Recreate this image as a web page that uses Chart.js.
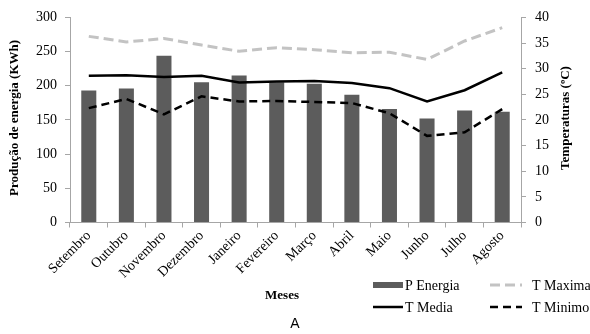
<!DOCTYPE html>
<html>
<head>
<meta charset="utf-8">
<script src="https://cdn.jsdelivr.net/npm/chart.js@4/dist/chart.umd.min.js"></script>
<style>
  html, body { margin: 0; padding: 0; background: #fff; }
  #wrap { width: 590px; height: 334px; position: relative; }
</style>
</head>
<body>
<div id="wrap"><canvas id="c" width="590" height="334"></canvas></div>
<script>
// Months of the year (September to August)
const meses = ['Setembro', 'Outubro', 'Novembro', 'Dezembro', 'Janeiro', 'Fevereiro',
               'Março', 'Abril', 'Maio', 'Junho', 'Julho', 'Agosto'];
// Energy production (kWh)
const pEnergia = [193, 196, 244, 205, 215, 205, 203, 187, 166, 152, 164, 162];
// Temperatures (ºC)
const tMaxima = [36.3, 35.2, 35.9, 34.6, 33.4, 34.1, 33.7, 33.1, 33.2, 31.8, 35.4, 38.0];
const tMedia  = [28.6, 28.7, 28.4, 28.6, 27.3, 27.5, 27.6, 27.2, 26.2, 23.6, 25.8, 29.3];
const tMinimo = [22.3, 24.1, 21.1, 24.6, 23.6, 23.7, 23.5, 23.3, 21.3, 16.9, 17.6, 22.1];
// Axis ticks
const energiaTicks = [0, 50, 100, 150, 200, 250, 300];
const tempTicks = [0, 5, 10, 15, 20, 25, 30, 35, 40];

const SERIF = '"Liberation Serif", "Times New Roman", serif';
const AXIS = '#a6a6a6';

// Free text and a two-column legend built from the datasets
const extras = {
  id: 'extras',
  afterDraw(chart) {
    const ctx = chart.ctx;
    ctx.save();
    ctx.fillStyle = '#000';
    ctx.textBaseline = 'middle';
    ctx.textAlign = 'center';

    ctx.font = 'bold 13px ' + SERIF;
    ctx.save();
    ctx.translate(15, 118);
    ctx.rotate(-Math.PI / 2);
    ctx.fillText('Produção de energia (KWh)', 0, 0);
    ctx.restore();

    ctx.save();
    ctx.translate(566, 118);
    ctx.rotate(-Math.PI / 2);
    ctx.fillText('Temperaturas (ºC)', 0, 0);
    ctx.restore();

    ctx.font = 'bold 13px ' + SERIF;
    ctx.fillText('Meses', 282, 296);

    ctx.font = '14px "Liberation Sans", Arial, sans-serif';
    ctx.fillText('A', 295, 324);

    // legend
    const cols = [373, 490];
    const rows = [285, 307];
    const ds = chart.data.datasets;
    ctx.font = '14px ' + SERIF;
    ctx.textAlign = 'left';
    ds.forEach((d, i) => {
      const x = cols[i % 2];
      const y = rows[Math.floor(i / 2)];
      const w = i % 2 === 0 ? 30 : 32;
      if (d.type === 'bar') {
        ctx.fillStyle = d.backgroundColor;
        ctx.fillRect(x, y - 3, w, 6);
      } else {
        ctx.strokeStyle = d.borderColor;
        ctx.lineWidth = d.borderWidth;
        ctx.setLineDash(d.borderDash || []);
        ctx.beginPath();
        ctx.moveTo(x, y);
        ctx.lineTo(x + w, y);
        ctx.stroke();
        ctx.setLineDash([]);
      }
      ctx.fillStyle = '#000';
      ctx.fillText(d.label, x + w + (i % 2 === 0 ? 2 : 10), y + 1);
    });
    ctx.restore();
  }
};

new Chart(document.getElementById('c'), {
  data: {
    labels: meses,
    datasets: [
      { type: 'bar', label: 'P Energia', data: pEnergia, yAxisID: 'y',
        backgroundColor: '#5c5c5c', barPercentage: 0.8, categoryPercentage: 0.5, order: 2 },
      { type: 'line', label: 'T Maxima', data: tMaxima, yAxisID: 'y1',
        borderColor: '#c3c3c3', borderWidth: 3, borderDash: [10, 5], pointRadius: 0, tension: 0, order: 1 },
      { type: 'line', label: 'T Media', data: tMedia, yAxisID: 'y1',
        borderColor: '#000', borderWidth: 2.5, pointRadius: 0, tension: 0, order: 1 },
      { type: 'line', label: 'T Minimo', data: tMinimo, yAxisID: 'y1',
        borderColor: '#000', borderWidth: 2.5, borderDash: [8, 5], pointRadius: 0, tension: 0, order: 1 }
    ]
  },
  options: {
    responsive: false,
    animation: false,
    layout: { padding: { top: 17, left: 0, right: 0, bottom: 0 } },
    plugins: { legend: { display: false }, tooltip: { enabled: false } },
    scales: {
      x: {
        offset: true,
        grid: { display: true, drawOnChartArea: false, offset: true, tickLength: 5, color: AXIS },
        border: { color: AXIS },
        ticks: { color: '#000', font: { family: SERIF, size: 14 }, maxRotation: 45, minRotation: 45, padding: 0 },
        afterFit(s) { s.height = 111.5; }
      },
      y: {
        position: 'left', min: 0, max: 300,
        afterBuildTicks(s) { s.ticks = energiaTicks.map(v => ({ value: v })); },
        grid: { drawOnChartArea: false, tickLength: 5, color: AXIS },
        border: { color: AXIS },
        ticks: { color: '#000', font: { family: SERIF, size: 14 }, padding: 8 },
        afterFit(s) { s.width = 70; }
      },
      y1: {
        position: 'right', min: 0, max: 40,
        afterBuildTicks(s) { s.ticks = tempTicks.map(v => ({ value: v })); },
        grid: { drawOnChartArea: false, tickLength: 5, color: AXIS },
        border: { color: AXIS },
        ticks: { color: '#000', font: { family: SERIF, size: 14 }, padding: 9 },
        afterFit(s) { s.width = 69; }
      }
    }
  },
  plugins: [extras]
});
</script>
</body>
</html>
